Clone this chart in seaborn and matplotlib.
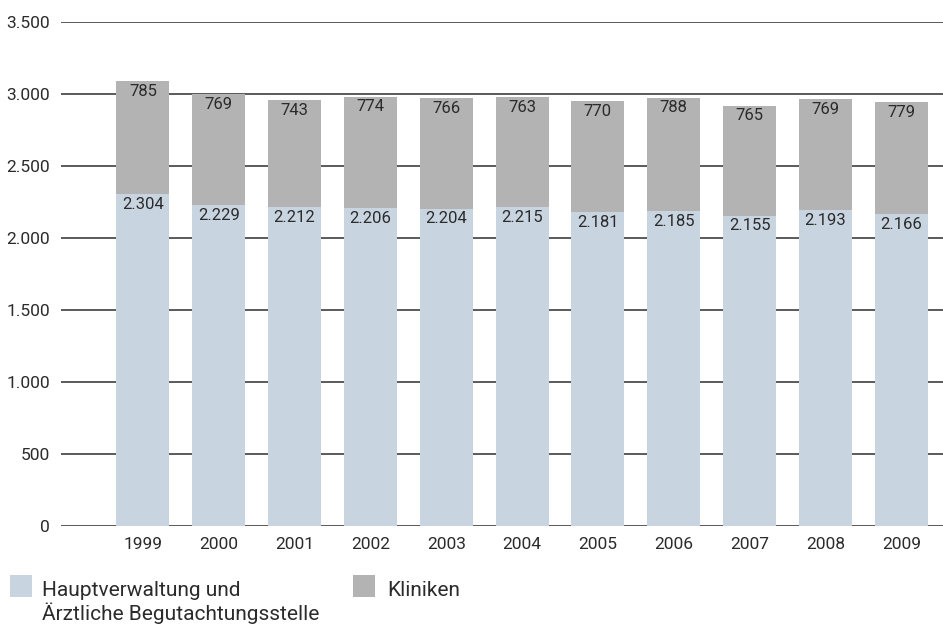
import matplotlib
matplotlib.use("Agg")
import matplotlib.pyplot as plt
from matplotlib.patches import Rectangle
import seaborn as sns
import pandas as pd

years = ["1999", "2000", "2001", "2002", "2003", "2004", "2005", "2006", "2007", "2008", "2009"]
hauptverwaltung = [2304, 2229, 2212, 2206, 2204, 2215, 2181, 2185, 2155, 2193, 2166]
kliniken = [785, 769, 743, 774, 766, 763, 770, 788, 765, 769, 779]
y_ticks = [0, 500, 1000, 1500, 2000, 2500, 3000, 3500]
legend_hv = ["Hauptverwaltung und", "Ärztliche Begutachtungsstelle"]
legend_kl = "Kliniken"

c_light = "#c9d4e1"
c_gray = "#b3b3b3"
c_grid = "#5a5a5a"
c_text = "#2b2b2b"

sns.set_theme(style="white")
plt.rcParams["font.family"] = ["Roboto", "DejaVu Sans"]

def de(n):
    return f"{n:,}".replace(",", ".")

df = pd.DataFrame({"Jahr": years, "HV": hauptverwaltung, "KL": kliniken})
df["Total"] = df["HV"] + df["KL"]

W, H = 943, 624
fig = plt.figure(figsize=(W / 100, H / 100), dpi=100)
ax = fig.add_axes([61 / W, 1 - 526 / H, 1 - 61 / W, (526 - 22) / H])

# horizontal grid lines behind the bars
for t in y_ticks:
    ax.axhline(t, color=c_grid, lw=1.4, zorder=0)

# stacked bars: totals in grey, lower segment drawn over them
sns.barplot(data=df, x="Jahr", y="Total", color=c_gray, width=0.7, saturation=1,
            ax=ax, zorder=2, linewidth=0)
sns.barplot(data=df, x="Jahr", y="HV", color=c_light, width=0.7, saturation=1,
            ax=ax, zorder=3, linewidth=0)

for i, (hv, kl) in enumerate(zip(hauptverwaltung, kliniken)):
    ax.text(i, hv + kl - 18, de(kl), ha="center", va="top", fontsize=12,
            color=c_text, zorder=4)
    ax.text(i, hv - 18, de(hv), ha="center", va="top", fontsize=12,
            color=c_text, zorder=4)

ax.set_ylim(0, 3500)
ax.set_xlim(-1.08, 10.55)
ax.set_yticks(y_ticks)
ax.set_yticklabels([de(t) for t in y_ticks])
ax.set_xlabel("")
ax.set_ylabel("")
for s in ax.spines.values():
    s.set_visible(False)
ax.tick_params(axis="y", length=0, pad=8, labelsize=12.5, labelcolor=c_text)
ax.tick_params(axis="x", length=0, pad=8, labelsize=12.5, labelcolor=c_text)

# legend below the chart
def px(x, y):
    return x / W, 1 - y / H

fig.add_artist(Rectangle(px(10, 597), 22 / W, 22 / H, transform=fig.transFigure,
                         facecolor=c_light, edgecolor="none"))
fig.add_artist(Rectangle(px(353, 597), 22 / W, 22 / H, transform=fig.transFigure,
                         facecolor=c_gray, edgecolor="none"))
fig.text(*px(42, 596), legend_hv[0], fontsize=15, color=c_text, va="baseline")
fig.text(*px(42, 620), legend_hv[1], fontsize=15, color=c_text, va="baseline")
fig.text(*px(387, 596), legend_kl, fontsize=15, color=c_text, va="baseline")

fig.savefig("out.png", dpi=100)
